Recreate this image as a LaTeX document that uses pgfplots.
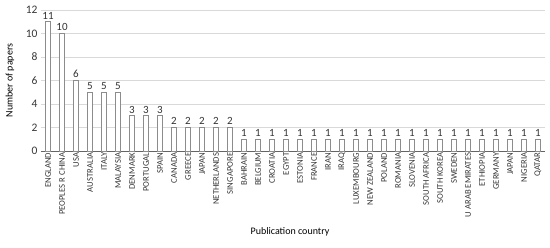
\documentclass[border=0pt]{standalone}
\usepackage{pgfplots}
\pgfplotsset{compat=1.18}
\usepackage{fontspec}
\setmainfont{Carlito}
\definecolor{txt}{RGB}{55,55,55}
\definecolor{gridc}{RGB}{217,217,217}
\definecolor{barc}{RGB}{140,140,140}
\definecolor{axc}{RGB}{100,100,100}
\begin{document}
\begin{tikzpicture}[x=1pt,y=1pt]
\useasboundingbox (0,0) rectangle (550,247);
\begin{axis}[
  at={(41pt,96pt)}, anchor=south west,
  scale only axis, width=504pt, height=141pt,
  xmin=-0.5, xmax=35.5, ymin=0, ymax=12,
  ytick={0,2,...,12},
  ymajorgrids, grid style={gridc, line width=0.8pt},
  axis y line*=left, axis x line*=bottom,
  y axis line style={draw=none},
  x axis line style={axc, line width=0.8pt, -},
  ytick style={draw=none}, xtick style={draw=none},
  xtick=data,
  xticklabels={ENGLAND,PEOPLES R CHINA,USA,AUSTRALIA,ITALY,MALAYSIA,DENMARK,PORTUGAL,SPAIN,CANADA,GREECE,JAPAN,NETHERLANDS,SINGAPORE,BAHRAIN,BELGIUM,CROATIA,EGYPT,ESTONIA,FRANCE,IRAN,IRAQ,LUXEMBOURG,NEW ZEALAND,POLAND,ROMANIA,SLOVENIA,SOUTH AFRICA,SOUTH KOREA,SWEDEN,U ARAB EMIRATES,ETHIOPIA,GERMANY,JAPAN,NIGERIA,QATAR},
  x tick label style={rotate=90, anchor=east, font=\fontsize{8.7}{9}\selectfont, text=txt, inner sep=1.5pt},
  y tick label style={font=\fontsize{11.5}{13}\selectfont, text=txt},
  /pgf/number format/assume math mode=true,
  ylabel={Number of papers}, xlabel={Publication country},
  ylabel style={font=\fontsize{12}{14}\selectfont, text=txt},
  every axis y label/.style={at={(-31pt,70.5pt)}, anchor=center, rotate=90},
  xlabel style={font=\fontsize{12}{14}\selectfont, text=txt},
  every axis x label/.style={at={(249pt,-81pt)}, anchor=center},
  clip=false,
  nodes near coords,
  every node near coord/.append style={font=\fontsize{11}{13}\selectfont, text=black!80, yshift=-1pt},
]
\addplot[ybar, bar width=5pt, draw=barc, fill=white, line width=0.6pt] coordinates {
(0,11) (1,10) (2,6) (3,5) (4,5) (5,5) (6,3) (7,3) (8,3) (9,2) (10,2) (11,2) (12,2) (13,2)
(14,1) (15,1) (16,1) (17,1) (18,1) (19,1) (20,1) (21,1) (22,1) (23,1) (24,1) (25,1)
(26,1) (27,1) (28,1) (29,1) (30,1) (31,1) (32,1) (33,1) (34,1) (35,1)};
\end{axis}
\end{tikzpicture}
\end{document}
